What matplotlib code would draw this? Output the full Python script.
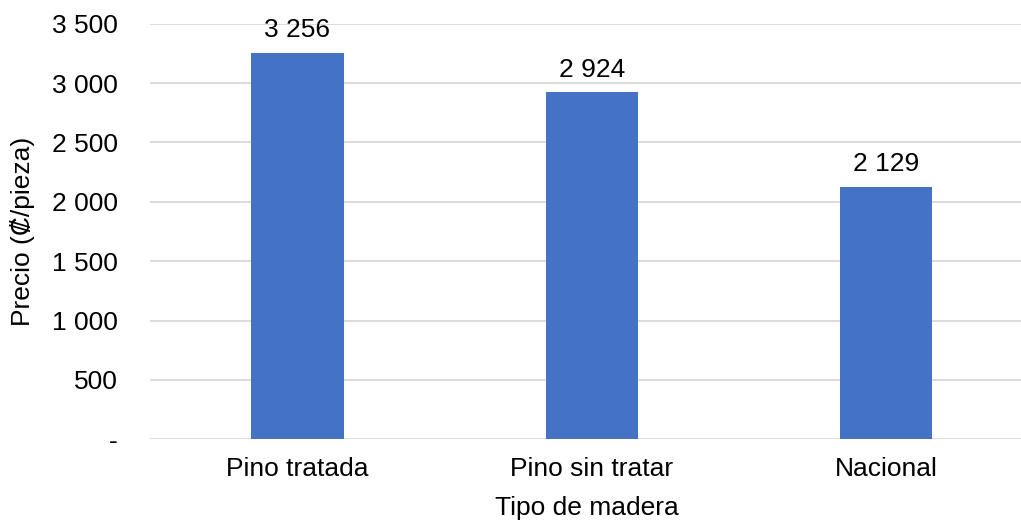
import matplotlib
matplotlib.use('Agg')
import matplotlib.pyplot as plt
from matplotlib.ticker import FuncFormatter

plt.rcParams['font.family'] = ['Liberation Sans', 'DejaVu Sans']

categorias = ['Pino tratada', 'Pino sin tratar', 'Nacional']
precios = [3256, 2924, 2129]
y_ticks = [0, 500, 1000, 1500, 2000, 2500, 3000, 3500]


def formatNumber(v, pos=None):
    if v == 0:
        return '-'
    return f'{v:,.0f}'.replace(',', ' ')


fig = plt.figure(figsize=(10.21, 5.22), dpi=100)
ax = fig.add_axes([0.1469, 0.1584, 0.853, 0.7962])

x = list(range(len(categorias)))
bars = ax.bar(x, precios, width=0.313, color='#4472C4', zorder=3)

for b, v in zip(bars, precios):
    ax.annotate(formatNumber(v), (b.get_x() + b.get_width() / 2, v),
                xytext=(0, 7.5), textcoords='offset points',
                ha='center', va='bottom', fontsize=19, color='#000000')

ax.set_xlim(-0.501, 2.457)
ax.set_ylim(0, 3500)
ax.set_yticks(y_ticks)
ax.yaxis.set_major_formatter(FuncFormatter(formatNumber))
ax.set_xticks(x)
ax.set_xticklabels(categorias)
ax.tick_params(axis='both', length=0, labelsize=19, colors='#000000')
ax.tick_params(axis='x', pad=13)
ax.tick_params(axis='y', pad=23)
ax.grid(axis='y', color='#d9d9d9', linewidth=1.3, zorder=0)
for s in ax.spines.values():
    s.set_visible(False)

fig.text(23 / 1021, 1 - 231 / 522, 'Precio (₡/pieza)', rotation=90,
         ha='center', va='center', fontsize=19)
fig.text(587 / 1021, 1 - 508 / 522, 'Tipo de madera',
         ha='center', va='center', fontsize=19)

plt.savefig('out.png', dpi=100)
plt.close(fig)
